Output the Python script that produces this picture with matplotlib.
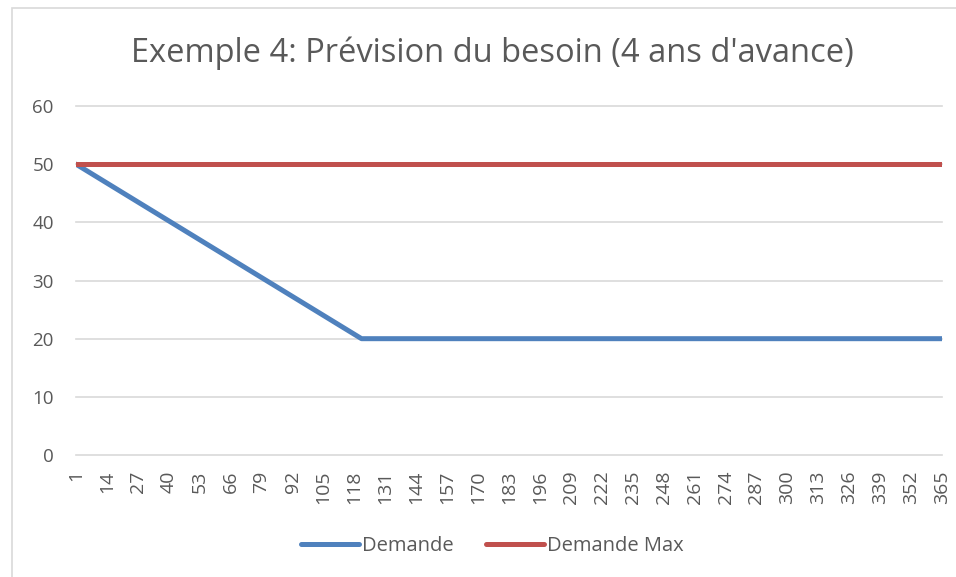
import matplotlib.pyplot as plt
from matplotlib.patches import Rectangle

plt.rcParams['font.family'] = ['Open Sans', 'DejaVu Sans']

# breakpoints of the daily series (days 1..365)
jours = [1, 121, 365]
demande = [50, 20, 20]
jours_max = [1, 365]
demande_max = [50, 50]
ticks_x = list(range(1, 366, 13))
ticks_y = [0, 10, 20, 30, 40, 50, 60]

titre = "Exemple 4: Prévision du besoin (4 ans d'avance)"
gris = "#595959"

fig = plt.figure(figsize=(9.56, 5.77), dpi=100)
ax = fig.add_axes([0.0795, 0.2114, 0.9059, 0.6049])

ax.plot(jours, demande, color="#4F81BD", lw=3.6, solid_capstyle="round",
        solid_joinstyle="round", label="Demande", zorder=3)
ax.plot(jours_max, demande_max, color="#C0504D", lw=3.6, solid_capstyle="round",
        label="Demande Max", zorder=3)

ax.set_xlim(1, 365)
ax.set_ylim(0, 60)
ax.set_xticks(ticks_x)
ax.set_xticklabels([str(t) for t in ticks_x], rotation=90, fontsize=14, color=gris)
ax.set_yticks(ticks_y)
ax.set_yticklabels([str(t) for t in ticks_y], fontsize=13.5, color=gris)
ax.tick_params(length=0)
ax.tick_params(axis='x', pad=11)
ax.tick_params(axis='y', pad=16)
ax.grid(axis='y', color="#D9D9D9", lw=1.2)
for gl in ax.get_ygridlines():
    gl.set_clip_on(False)
for s in ax.spines.values():
    s.set_visible(False)

fig.text(0.515, 0.907, titre, ha='center', va='center', fontsize=23.5, color=gris)

fig.legend(loc='center', bbox_to_anchor=(0.515, 0.054), ncol=2, frameon=False,
           fontsize=14.5, handlelength=2.9, handletextpad=0.15, columnspacing=1.6,
           labelcolor=gris)

fig.patches.append(Rectangle((0.0125, -0.01), 1.0, 0.996, transform=fig.transFigure,
                             fill=False, edgecolor="#D9D9D9", lw=1.2))

fig.savefig("out.png", dpi=100)
